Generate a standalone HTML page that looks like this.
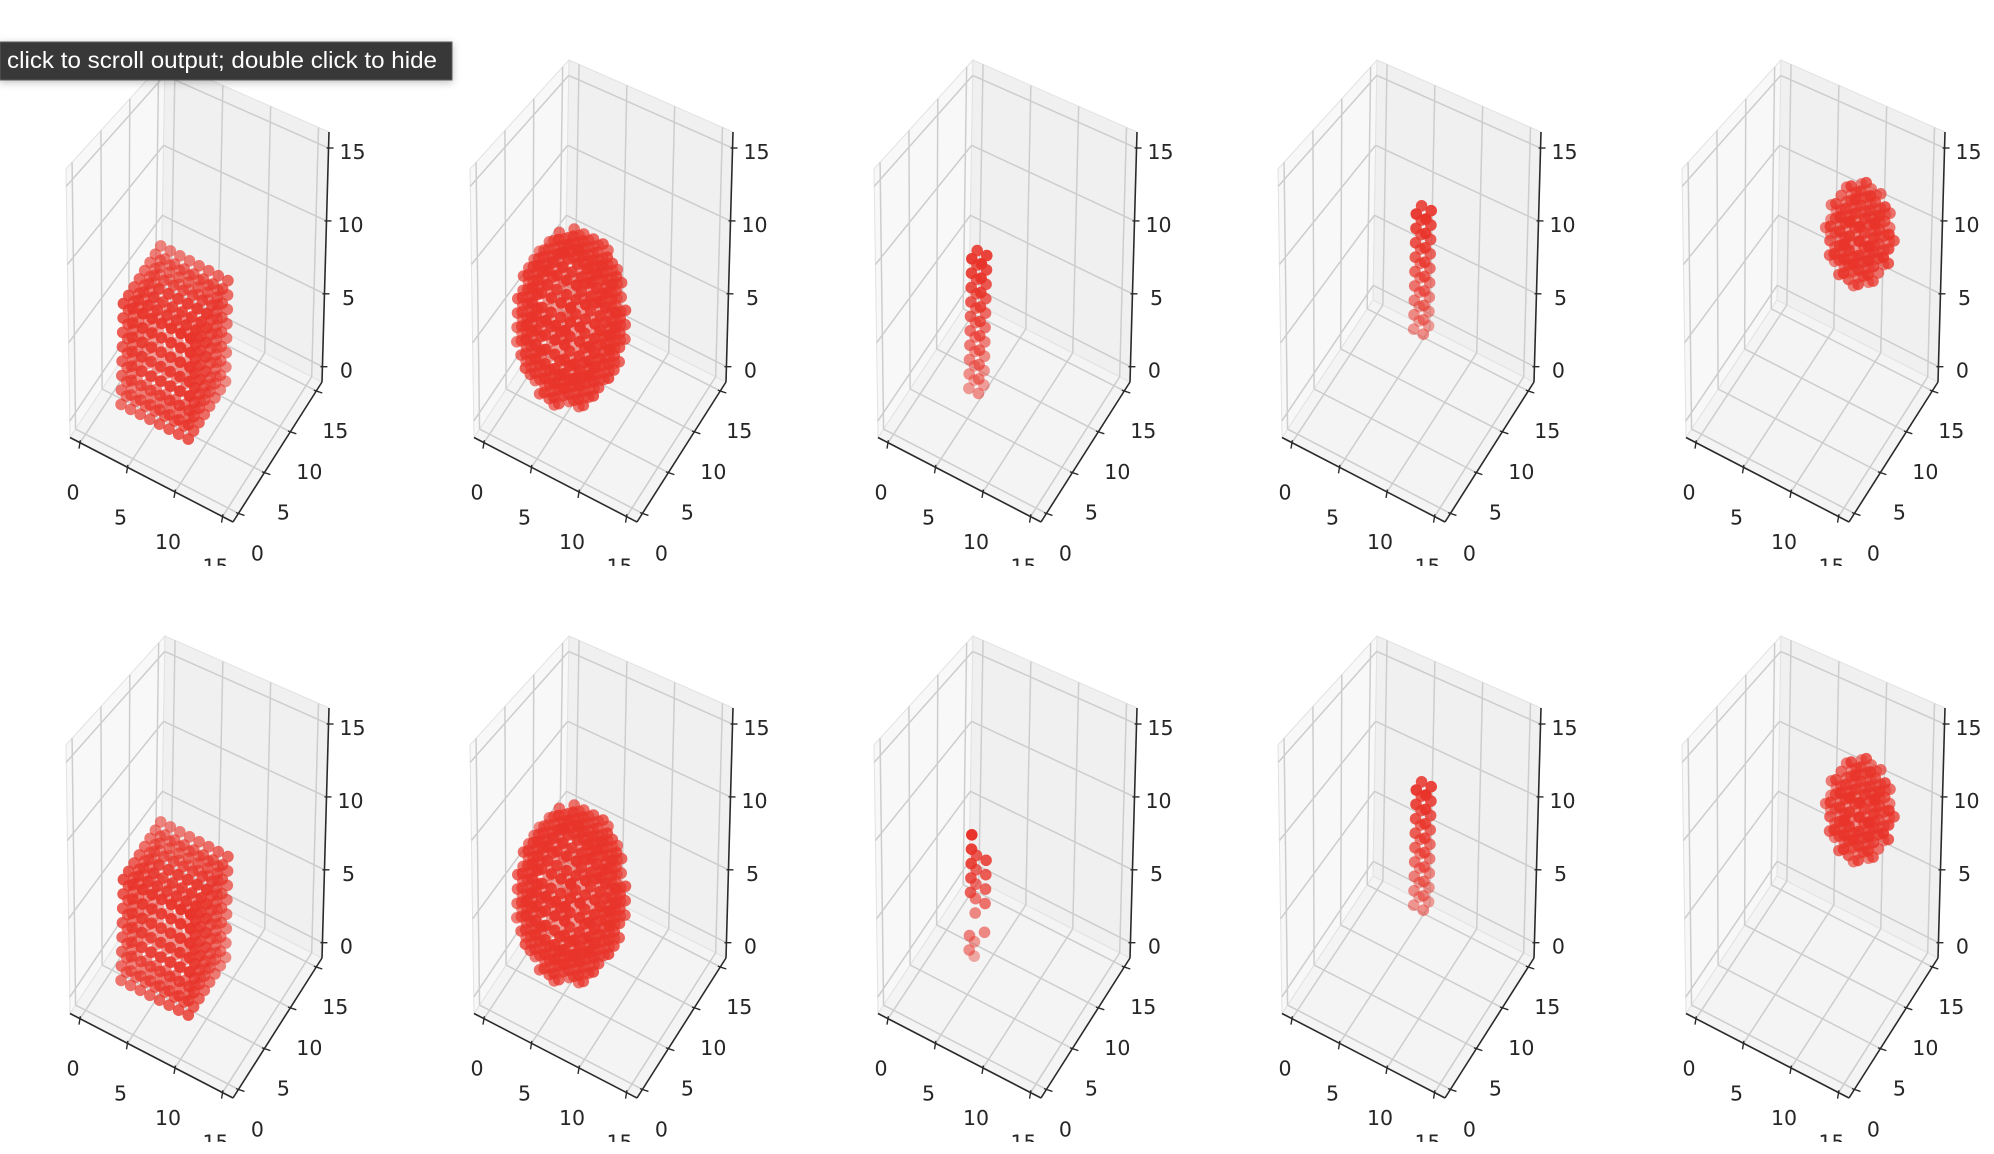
<!DOCTYPE html>
<html><head><meta charset="utf-8"><style>
html,body{margin:0;padding:0;background:#fff;}
svg{display:block;}
text{font-family:"DejaVu Sans","Liberation Sans",sans-serif;}
</style></head><body>
<svg id="fig" width="1994" height="1154" viewBox="0 0 1994 1154" xmlns="http://www.w3.org/2000/svg">
<defs>
<clipPath id="row0"><rect x="0" y="0" width="1994" height="566"/></clipPath>
<clipPath id="row1"><rect x="0" y="576" width="1994" height="566"/></clipPath>
<filter id="sh" x="-5%" y="-30%" width="110%" height="180%"><feDropShadow dx="0" dy="2" stdDeviation="4" flood-color="#000" flood-opacity="0.25"/></filter>
</defs>
<g id="panels"></g>
<g>
<rect x="0" y="42" width="452" height="38" fill="#383838" stroke="#5c5c5c" stroke-width="1" filter="url(#sh)"/>
<text x="7" y="68" fill="#ffffff" font-size="23" textLength="430" lengthAdjust="spacingAndGlyphs" style="font-family:'Liberation Sans',sans-serif">click to scroll output; double click to hide</text>
</g>
</svg>
<script>
// ---- data ----
const tickValues = [0, 5, 10, 15];
const tickLabels = ["0", "5", "10", "15"];
const axisMin = -1.05;
const axisMax = 16.1;
// shape specs per panel (row-major, 5 columns x 2 rows)
const panelShapes = ["box", "ellipsoid", "box", "box", "ellipsoid", "box", "ellipsoid", "points", "box", "ellipsoid"];
// box: [x0,x1,y0,y1,z0,z1]; ellipsoid: [cx,cy,cz,rx,ry,rz]
const panelParams = [
  [2, 9, 3, 10, 0, 7],
  [5.3, 5.3, 5.8, 5.2, 5.2, 5.4],
  [5, 6, 5, 6, 1, 10],
  [8, 9, 7, 8, 5, 13],
  [10, 11, 10, 3.2, 3.2, 3.2],
  [2, 9, 3, 10, 0, 7],
  [5.3, 5.3, 5.8, 5.2, 5.2, 5.4],
  [],
  [8, 9, 7, 8, 5, 13],
  [10, 11, 10, 3.2, 3.2, 3.2]
];
// explicit scattered voxels for panel 8 (row 2, col 3)
const sparseX = [5,5,5,5,5,5,5, 5,5,5,5,5,5,5, 6,6,6,6,6];
const sparseY = [5,5,5,5,5,5,5, 6,6,6,6,6,6,6, 6,6,6,6,6];
const sparseZ = [10,9,8,7,6,3,2, 8,7,6,5,4,2,1, 8,7,6,5,3];

// ---- geometry ----
const NS = "http://www.w3.org/2000/svg";
const COLS = 5, COL_DX = 404, ROW_DY = 576;
const O = [85.9, 419.2], EX = [9.6, 4.96], EY = [5.33, -8.24], EZ = [0.33, -14.4];
const CA = [70, 437.5], CB = [233, 522], CC = [322, 382], CD = [161, 300], CE = [66, 169], CF = [165, 60], CG = [329, 132];

function proj(x, y, z, ox, oy) {
  return [ox + O[0] + x * EX[0] + y * EY[0] + z * EZ[0], oy + O[1] + x * EX[1] + y * EY[1] + z * EZ[1]];
}
function tpos(v) { return (v - axisMin) / (axisMax - axisMin); }
function lerp(p, q, t) { return [p[0] + (q[0] - p[0]) * t, p[1] + (q[1] - p[1]) * t]; }
function bil(p00, p10, p01, p11, s, t) { return lerp(lerp(p00, p10, s), lerp(p01, p11, s), t); }
function mk(tag, attrs, parent) {
  const e = document.createElementNS(NS, tag);
  for (const k in attrs) e.setAttribute(k, attrs[k]);
  parent.appendChild(e);
  return e;
}
function off(p, ox, oy) { return [p[0] + ox, p[1] + oy]; }

function voxels(i) {
  const type = panelShapes[i], p = panelParams[i], out = [];
  if (type === "points") {
    for (let k = 0; k < sparseX.length; k++) out.push([sparseX[k], sparseY[k], sparseZ[k]]);
    return out;
  }
  if (type === "box") {
    for (let x = p[0]; x <= p[1]; x++) for (let y = p[2]; y <= p[3]; y++) for (let z = p[4]; z <= p[5]; z++) {
      if (x === p[0] || x === p[1] || y === p[2] || y === p[3] || z === p[4] || z === p[5]) out.push([x, y, z]);
    }
    return out;
  }
  const inE = (x, y, z, s) => ((x - p[0]) / (p[3] - s)) ** 2 + ((y - p[1]) / (p[4] - s)) ** 2 + ((z - p[2]) / (p[5] - s)) ** 2 <= 1;
  for (let x = Math.floor(p[0] - p[3]); x <= Math.ceil(p[0] + p[3]); x++)
    for (let y = Math.floor(p[1] - p[4]); y <= Math.ceil(p[1] + p[4]); y++)
      for (let z = Math.floor(p[2] - p[5]); z <= Math.ceil(p[2] + p[5]); z++) {
        if (inE(x, y, z, 0) && !inE(x, y, z, 1.8)) out.push([x, y, z]);
      }
  return out;
}

const root = document.getElementById("panels");
for (let i = 0; i < 10; i++) {
  const r = Math.floor(i / COLS), c = i % COLS;
  const ox = c * COL_DX, oy = r * ROW_DY;
  const g = mk("g", { "clip-path": "url(#row" + r + ")" }, root);
  
  
  const A = off(CA, ox, oy), B = off(CB, ox, oy), C = off(CC, ox, oy), D = off(CD, ox, oy), E = off(CE, ox, oy), F = off(CF, ox, oy), G = off(CG, ox, oy);
  const poly = pts => pts.map(p => p[0].toFixed(1) + "," + p[1].toFixed(1)).join(" ");
  const pf = mk("polygon", { points: poly([A, B, C, D]), fill: "#f4f4f4", stroke: "#e2e2e2", "stroke-width": 1 }, g);
  
  
  const pl = mk("polygon", { points: poly([A, D, F, E]), fill: "#f8f8f8", stroke: "#e2e2e2", "stroke-width": 1 }, g);
  
  
  const pb = mk("polygon", { points: poly([D, C, G, F]), fill: "#f0f0f0", stroke: "#e2e2e2", "stroke-width": 1 }, g);
  
  
  const grid = mk("g", { stroke: "#cdcdcd", "stroke-width": 1.5, fill: "none" }, g);
  
  
  for (const v of tickValues) {
    const t = tpos(v);
    const segs = [
      [bil(A, B, D, C, t, 0), bil(A, B, D, C, t, 1)],
      [bil(A, B, D, C, 0, t), bil(A, B, D, C, 1, t)],
      [bil(A, D, E, F, t, 0), bil(A, D, E, F, t, 1)],
      [bil(A, D, E, F, 0, t), bil(A, D, E, F, 1, t)],
      [bil(D, C, F, G, t, 0), bil(D, C, F, G, t, 1)],
      [bil(D, C, F, G, 0, t), bil(D, C, F, G, 1, t)]
    ];
    for (const s of segs) {
      const l = mk("line", { x1: s[0][0], y1: s[0][1], x2: s[1][0], y2: s[1][1] }, grid);
      
      
    }
  }
  const axes = [["x-axis", A, B], ["y-axis", B, C], ["z-axis", C, G]];
  for (const ax of axes) {
    const l = mk("line", { x1: ax[1][0], y1: ax[1][1], x2: ax[2][0], y2: ax[2][1], stroke: "#2a2a2a", "stroke-width": 1.6 }, g);
    
    
  }
  for (let k = 0; k < tickValues.length; k++) {
    const t = tpos(tickValues[k]);
    const px = lerp(A, B, t), py = lerp(B, C, t), pz = lerp(C, G, t);
    const defs = [["x", px, [-1, 6], [-7, 50]], ["y", py, [6, 2], [19, 40]], ["z", pz, [5, 0], [24, 4]]];
    for (const d of defs) {
      const p = d[1];
      const tk = mk("line", { x1: p[0] - d[2][0] * 0.4, y1: p[1] - d[2][1] * 0.4, x2: p[0] + d[2][0], y2: p[1] + d[2][1], stroke: "#2a2a2a", "stroke-width": 1.4 }, g);
      
      
      const tx = mk("text", { x: p[0] + d[3][0], y: p[1] + d[3][1], "font-size": 20.5, fill: "#262626", "text-anchor": "middle", "dominant-baseline": "central" }, g);
      tx.textContent = tickLabels[k];
      
      
    }
  }
  const pts = voxels(i).map(v => ({ v, d: 0.433 * v[0] - 0.75 * v[1] + 0.5 * v[2] }));
  if (pts.length) {
    let dmin = Infinity, dmax = -Infinity;
    for (const p of pts) { dmin = Math.min(dmin, p.d); dmax = Math.max(dmax, p.d); }
    pts.sort((a, b) => a.d - b.d);
    const pg = mk("g", {}, g);
    
    
    for (const p of pts) {
      const s = proj(p.v[0], p.v[1], p.v[2], ox, oy);
      const a = dmax > dmin ? 0.4 + 0.6 * (p.d - dmin) / (dmax - dmin) : 1;
      const ci = mk("circle", { cx: s[0].toFixed(1), cy: s[1].toFixed(1), r: 5.8, fill: "#e8342a", "fill-opacity": a.toFixed(2) }, pg);
      
      
    }
  }
}
</script>
</body></html>
